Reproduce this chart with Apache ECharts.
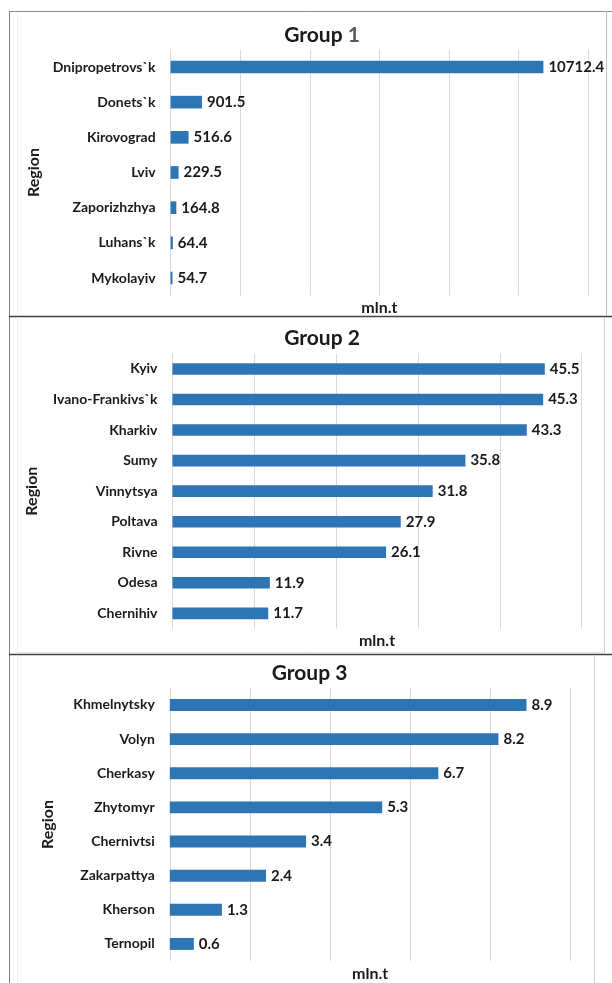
<!DOCTYPE html>
<html>
<head>
<meta charset="utf-8">
<script src="https://cdn.jsdelivr.net/npm/echarts@6/dist/echarts.min.js"></script>
<style>
html,body{margin:0;padding:0;background:#fff;}
#chart{width:612px;height:983px;}
</style>
</head>
<body>
<div id="chart"></div>
<script>
// ---- Data ----
var titles = [['Group ', '1'], ['Group ', '2'], ['Group ', '3']];
var g1Regions = ['Dnipropetrovs`k', 'Donets`k', 'Kirovograd', 'Lviv', 'Zaporizhzhya', 'Luhans`k', 'Mykolayiv'];
var g1Values = [10712.4, 901.5, 516.6, 229.5, 164.8, 64.4, 54.7];
var g2Regions = ['Kyiv', 'Ivano-Frankivs`k', 'Kharkiv', 'Sumy', 'Vinnytsya', 'Poltava', 'Rivne', 'Odesa', 'Chernihiv'];
var g2Values = [45.5, 45.3, 43.3, 35.8, 31.8, 27.9, 26.1, 11.9, 11.7];
var g3Regions = ['Khmelnytsky', 'Volyn', 'Cherkasy', 'Zhytomyr', 'Chernivtsi', 'Zakarpattya', 'Kherson', 'Ternopil'];
var g3Values = [8.9, 8.2, 6.7, 5.3, 3.4, 2.4, 1.3, 0.6];
var axisMax = [12000, 50, 10];
var axisInterval = [2000, 10, 2];
var xAxisName = 'mln.t';
var yAxisName = 'Region';

var FONT = 'Lato';
var TEXT = '#1a1a1a';
var BAR = '#2E75B6';
var GRID = '#D9D9D9';

var chart = echarts.init(document.getElementById('chart'), null, {renderer: 'canvas'});

var grids = [
  {left: 170.6, top: 49.4, width: 417.6, height: 246.2},
  {left: 172.5, top: 353.7, width: 409.1, height: 274.9},
  {left: 169.8, top: 687.9, width: 400.8, height: 273.5}
];
var regions = [g1Regions, g2Regions, g3Regions];
var values = [g1Values, g2Values, g3Values];
var barW = ['36%', '38%', '35%'];
var yNameGap = [126, 133, 114];
var xNameGap = [4, 4, 5];
var titlePos = [[322, 35], [322, 338], [309.5, 673]];

var xAxes = [], yAxes = [], series = [];
for (var i = 0; i < 3; i++) {
  xAxes.push({
    gridIndex: i, type: 'value', min: 0, max: axisMax[i], interval: axisInterval[i],
    axisLabel: {show: false}, axisLine: {show: false}, axisTick: {show: false},
    splitLine: {show: true, lineStyle: {color: GRID, width: 1}},
    name: xAxisName, nameLocation: 'middle', nameGap: xNameGap[i],
    nameTextStyle: {fontFamily: FONT, fontWeight: 'bold', fontSize: 16, color: TEXT}
  });
  yAxes.push({
    gridIndex: i, type: 'category', data: regions[i], inverse: true,
    axisLine: {show: false}, axisTick: {show: false},
    axisLabel: {fontFamily: FONT, fontWeight: 'bold', fontSize: 14, color: TEXT, margin: 15},
    name: yAxisName, nameLocation: 'middle', nameGap: yNameGap[i], nameRotate: 90,
    nameTextStyle: {fontFamily: FONT, fontWeight: 'bold', fontSize: 16, color: TEXT}
  });
  series.push({
    type: 'bar', xAxisIndex: i, yAxisIndex: i, data: values[i], barWidth: barW[i],
    itemStyle: {color: BAR},
    label: {show: true, position: 'right', distance: 5, formatter: '{c}',
      fontFamily: FONT, fontWeight: 'bold', fontSize: 15, color: TEXT},
    silent: true, animation: false
  });
}

var graphics = [];
for (var j = 0; j < 3; j++) {
  graphics.push({
    type: 'text', x: titlePos[j][0], y: titlePos[j][1],
    style: {
      text: '{a|' + titles[j][0] + '}{b|' + titles[j][1] + '}',
      align: 'center', verticalAlign: 'middle',
      textAlign: 'center', textVerticalAlign: 'middle',
      rich: {
        a: {fontFamily: FONT, fontWeight: 'bold', fontSize: 21, fill: '#1a1a1a', color: '#1a1a1a'},
        b: {fontFamily: FONT, fontWeight: 'bold', fontSize: 21, fill: j === 0 ? '#595959' : '#1a1a1a', color: j === 0 ? '#595959' : '#1a1a1a'}
      }
    }
  });
}
function line(x1, y1, x2, y2, color, w) {
  graphics.push({type: 'line', shape: {x1: x1, y1: y1, x2: x2, y2: y2}, style: {stroke: color, lineWidth: w}, silent: true});
}
line(9.5, 11, 9.5, 983, '#7f7f7f', 1);
line(9, 11.5, 612, 11.5, '#8c8c8c', 1);
line(9, 316.5, 612, 316.5, '#404040', 1.5);
line(9, 654.5, 612, 654.5, '#404040', 1.5);
line(606.5, 11, 606.5, 316, '#bfbfbf', 1);
line(604.5, 317, 604.5, 654, '#d0d0d0', 1);
line(594.5, 655, 594.5, 983, '#d0d0d0', 1);
line(17.5, 12, 17.5, 316, '#efefef', 1);
line(17.5, 317, 17.5, 652, '#efefef', 1);
line(17, 652.5, 604, 652.5, '#e6e6e6', 1);
line(17.5, 655, 17.5, 983, '#efefef', 1);

chart.setOption({
  animation: false,
  backgroundColor: '#ffffff',
  grid: grids,
  xAxis: xAxes,
  yAxis: yAxes,
  series: series,
  graphic: graphics
});
</script>
</body>
</html>
